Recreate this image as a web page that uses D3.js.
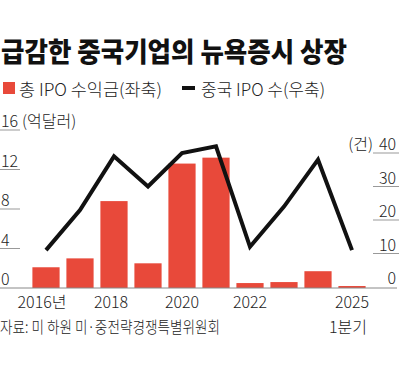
<!DOCTYPE html>
<html>
    <head>
        <meta charset="utf-8" />
        <script src="https://d3js.org/d3.v7.min.js"></script>
        <style type="text/css">
            body {
                margin: 0;
                background: #fff;
            }
            svg#mainSvg {
                width: 399px;
                height: 382px;
                display: block;
                font-family: "Noto Sans CJK KR", "Noto Sans", sans-serif;
            }
            .tick-text {
                fill: #222;
                font-size: 16px;
                font-weight: 300;
            }
        </style>
    </head>

    <body>
        <svg id="mainSvg"></svg>

        <script type="text/javascript">
            // Data
            const years = ["2016", "2017", "2018", "2019", "2020", "2021", "2022", "2023", "2024", "2025Q1"];
            const proceeds = [2.1, 3.0, 8.8, 2.5, 12.6, 13.2, 0.5, 0.6, 1.7, 0.2]; // 억달러
            const ipoCount = [11, 23, 39, 30, 40, 42, 12, 24, 38, 11]; // 건
            const leftTicks = [0, 4, 8, 12, 16];
            const rightTicks = [0, 10, 20, 30, 40];
            const xLabels = { "2016": "2016년", "2018": "2018", "2020": "2020", "2022": "2022", "2025Q1": "2025" };

            const svg = d3.select("#mainSvg");

            // Scales
            const x = d3.scaleBand().domain(years).range([29, 369]).paddingInner(0.2).paddingOuter(0.1);
            const yL = d3.scaleLinear().domain([0, 16]).range([288, 130]);
            const yR = d3.scaleLinear().domain([0, 40]).range([287, 153]);

            // Title
            svg.append("text")
                .attr("x", 1)
                .attr("y", 62)
                .attr("textLength", 346)
                .attr("lengthAdjust", "spacingAndGlyphs")
                .style("font-size", "27px")
                .style("font-weight", 900)
                .style("fill", "#111")
                .text("급감한 중국기업의 뉴욕증시 상장");

            // Legend
            svg.append("rect").attr("x", 3).attr("y", 82).attr("width", 12).attr("height", 12).attr("fill", "#e8493a");
            svg.append("text")
                .attr("x", 19)
                .attr("y", 96)
                .attr("textLength", 143)
                .attr("lengthAdjust", "spacingAndGlyphs")
                .style("font-size", "17px")
                .style("font-weight", 300)
                .style("fill", "#222")
                .text("총 IPO  수익금(좌축)");
            svg.append("line")
                .attr("x1", 182).attr("x2", 195)
                .attr("y1", 88).attr("y2", 88)
                .attr("stroke", "#111").attr("stroke-width", 4);
            svg.append("text")
                .attr("x", 201)
                .attr("y", 96)
                .attr("textLength", 124)
                .attr("lengthAdjust", "spacingAndGlyphs")
                .style("font-size", "17px")
                .style("font-weight", 300)
                .style("fill", "#222")
                .text("중국 IPO 수(우축)");

            // Left ticks: short underline + label
            const lg = svg.append("g");
            lg.selectAll("line")
                .data(leftTicks.filter((d) => d > 0))
                .enter()
                .append("line")
                .attr("x1", 0).attr("x2", 20)
                .attr("y1", (d) => yL(d)).attr("y2", (d) => yL(d))
                .attr("stroke", "#999").attr("stroke-width", 1);
            lg.selectAll("text")
                .data(leftTicks)
                .enter()
                .append("text")
                .attr("class", "tick-text")
                .attr("x", 1)
                .attr("y", (d) => yL(d) - 3)
                .text((d) => d);
            svg.append("text")
                .attr("class", "tick-text")
                .attr("x", 22)
                .attr("y", yL(16) - 3)
                .text("(억달러)");

            // Right ticks
            const rg = svg.append("g");
            rg.selectAll("line")
                .data(rightTicks.filter((d) => d > 0))
                .enter()
                .append("line")
                .attr("x1", 373).attr("x2", 399)
                .attr("y1", (d) => yR(d)).attr("y2", (d) => yR(d))
                .attr("stroke", "#999").attr("stroke-width", 1);
            rg.selectAll("text")
                .data(rightTicks)
                .enter()
                .append("text")
                .attr("class", "tick-text")
                .attr("x", 396)
                .attr("y", (d) => yR(d) - 3)
                .attr("text-anchor", "end")
                .text((d) => d);
            svg.append("text")
                .attr("class", "tick-text")
                .attr("x", 373)
                .attr("y", yR(40) - 3)
                .attr("text-anchor", "end")
                .text("(건)");

            // Bars
            svg.append("g")
                .selectAll("rect")
                .data(years)
                .enter()
                .append("rect")
                .attr("x", (d) => x(d))
                .attr("width", x.bandwidth())
                .attr("y", (d, i) => yL(proceeds[i]))
                .attr("height", (d, i) => yL(0) - yL(proceeds[i]))
                .attr("fill", "#e8493a");

            // Baseline
            svg.append("line")
                .attr("x1", 0).attr("x2", 397)
                .attr("y1", yL(0)).attr("y2", yL(0))
                .attr("stroke", "#888").attr("stroke-width", 1);

            // IPO count line
            const line = d3.line()
                .x((d, i) => x(years[i]) + x.bandwidth() / 2)
                .y((d) => yR(d));
            svg.append("path")
                .datum(ipoCount)
                .attr("d", line)
                .attr("fill", "none")
                .attr("stroke", "#111")
                .attr("stroke-width", 4)
                .attr("stroke-linejoin", "miter");

            // X labels
            svg.append("g")
                .selectAll("text")
                .data(Object.keys(xLabels))
                .enter()
                .append("text")
                .attr("class", "tick-text")
                .style("font-size", "16px")
                .attr("x", (d) => x(d) + x.bandwidth() / 2 + (d === "2016" ? -4 : d === "2018" ? -3 : 0))
                .attr("y", 308)
                .attr("text-anchor", "middle")
                .text((d) => xLabels[d]);
            svg.append("text")
                .attr("class", "tick-text")
                .style("font-size", "16px")
                .attr("x", x("2025Q1") + x.bandwidth() / 2 - 4)
                .attr("y", 333)
                .attr("text-anchor", "middle")
                .text("1분기");

            // Source
            svg.append("text")
                .attr("class", "tick-text")
                .attr("x", 0)
                .attr("y", 333)
                .attr("textLength", 220)
                .attr("lengthAdjust", "spacingAndGlyphs")
                .style("font-size", "16px")
                .text("자료: 미 하원 미·중전략경쟁특별위원회");
        </script>
    </body>
</html>
